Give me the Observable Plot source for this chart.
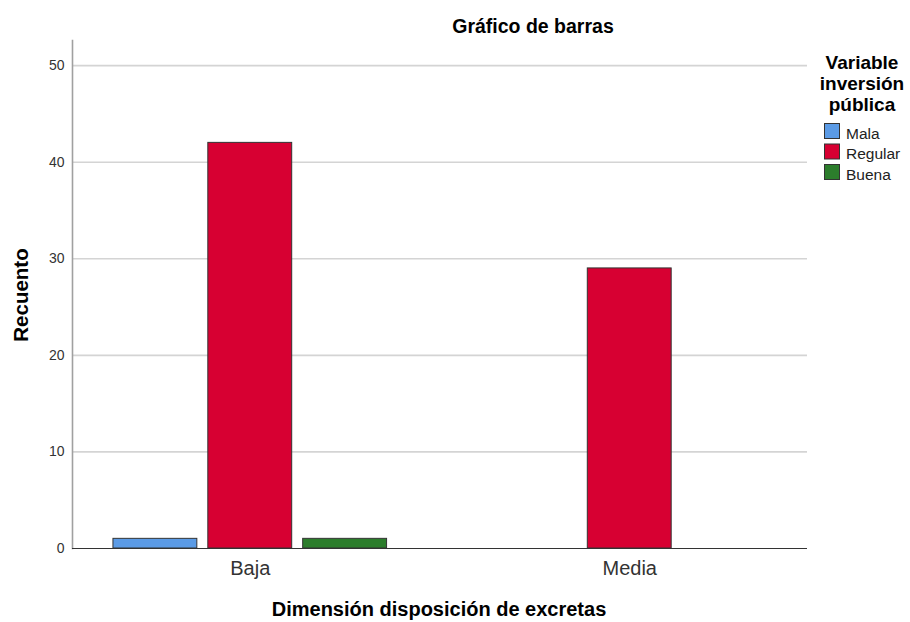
<!DOCTYPE html>
<html>
<head>
<meta charset="utf-8">
<script src="https://cdn.jsdelivr.net/npm/d3@7"></script>
<script src="https://cdn.jsdelivr.net/npm/@observablehq/plot@0.6"></script>
<style>
  body { margin: 0; background: #fff; }
  #chart { position: relative; width: 910px; height: 622px; overflow: hidden; }
</style>
</head>
<body>
<div id="chart"></div>
<script>
const dimensions = ["Baja", "Media"];
const series = ["Mala", "Regular", "Buena"];
const seriesColors = ["#5b9be6", "#d70032", "#2c7d2c"];
const bajaCounts = [1, 42, 1];
const mediaCounts = [0, 29, 0];
const yTicks = [0, 10, 20, 30, 40, 50];

const titleText = "Gráfico de barras";
const xLabel = "Dimensión disposición de excretas";
const yLabel = "Recuento";
const legendTitle = ["Variable", "inversión", "pública"];

const FONT = "'Liberation Sans', Arial, sans-serif";
const SEP = "·";
const rows = [];
series.forEach((s, i) => {
  rows.push({dim: "Baja", serie: s, count: bajaCounts[i]});
  rows.push({dim: "Media", serie: s, count: mediaCounts[i]});
});
// band domain: each dimension's series slots, with one empty slot between groups
const xDomain = [];
dimensions.forEach((dm, k) => {
  if (k > 0) xDomain.push("gap" + k);
  series.forEach(s => xDomain.push(dm + SEP + s));
});
const xTickKeys = dimensions.map(dm => dm + SEP + series[1]);

const plot = Plot.plot({
  width: 910,
  height: 622,
  marginLeft: 72,
  marginRight: 103,
  marginTop: 40,
  marginBottom: 74,
  style: {fontFamily: FONT, background: "#fff"},
  x: {domain: xDomain, paddingInner: 11 / 95, paddingOuter: 0.4316, round: false},
  y: {domain: [0, 52.6]},
  color: {domain: series, range: seriesColors},
  marks: [
    Plot.gridY(yTicks.filter(d => d > 0), {stroke: "#d4d4d4", strokeOpacity: 1, strokeWidth: 1.6}),
    Plot.axisY(yTicks, {tickSize: 0, tickPadding: 8, fontSize: 14, fill: "#333", label: null}),
    Plot.barY(rows.filter(d => d.count > 0), {x: d => d.dim + SEP + d.serie, y: "count", fill: "serie", stroke: "#333", strokeWidth: 1}),
    Plot.frame({anchor: "left", stroke: "#a0a0a0", strokeWidth: 1.6}),
    Plot.ruleY([0], {stroke: "#333", strokeWidth: 1}),
    Plot.axisX(xTickKeys, {tickSize: 0, tickPadding: 12, fontSize: 20, fill: "#333", label: null, tickFormat: d => d.split(SEP)[0]})
  ]
});
document.getElementById("chart").appendChild(plot);

// titles and legend as SVG text overlaid in the margins
const svg = d3.select(plot);
const g = svg.append("g").attr("font-family", FONT);
g.append("text").text(titleText)
  .attr("x", 533).attr("y", 33).attr("text-anchor", "middle")
  .attr("font-size", 19.5).attr("font-weight", "bold").attr("fill", "#000");
g.append("text").text(xLabel)
  .attr("x", 439).attr("y", 616).attr("text-anchor", "middle")
  .attr("font-size", 20).attr("font-weight", "bold").attr("fill", "#000");
g.append("text").text(yLabel)
  .attr("transform", "translate(28,295) rotate(-90)").attr("text-anchor", "middle")
  .attr("font-size", 20.5).attr("font-weight", "bold").attr("fill", "#000");

const leg = g.append("g");
legendTitle.forEach((line, i) => {
  leg.append("text").text(line)
    .attr("x", 862).attr("y", 69 + i * 21).attr("text-anchor", "middle")
    .attr("font-size", 19).attr("font-weight", "bold").attr("fill", "#000");
});
series.forEach((s, i) => {
  const y0 = 123.5 + i * 20.5;
  leg.append("rect")
    .attr("x", 824.5).attr("y", y0).attr("width", 15).attr("height", 15)
    .attr("fill", seriesColors[i]).attr("stroke", "#333").attr("stroke-width", 1);
  leg.append("text").text(s)
    .attr("x", 846).attr("y", y0 + 15).attr("text-anchor", "start")
    .attr("font-size", 15.5).attr("fill", "#222");
});
</script>
</body>
</html>
